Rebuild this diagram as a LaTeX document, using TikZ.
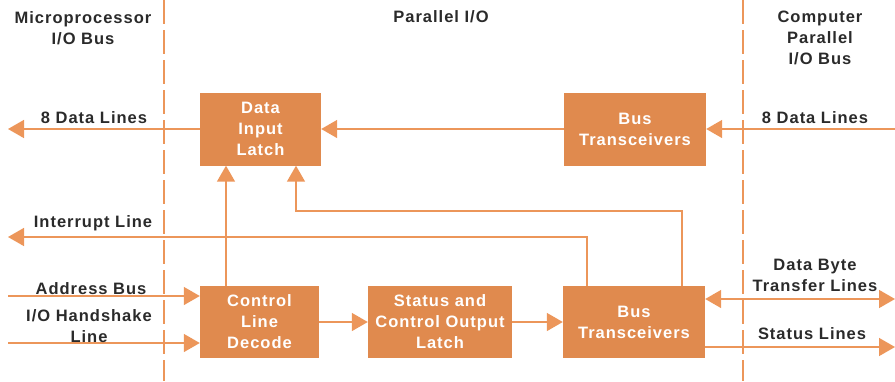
\documentclass[tikz,border=0pt]{standalone}
\usepackage{fontspec}
\setmainfont{Liberation Sans}[LetterSpace=6]
\usepackage{tikz}
\usetikzlibrary{arrows.meta, positioning}
\definecolor{boxorange}{RGB}{224,138,78}
\definecolor{lineorange}{RGB}{236,150,90}
\definecolor{labelgray}{RGB}{42,42,42}
\tikzset{>={Triangle[length=16pt, width=18pt]}}

\begin{document}
\begin{tikzpicture}[x=1pt, y=-1pt,
  block/.style={fill=boxorange, text=white, align=center, inner sep=0pt,
    font=\bfseries\fontsize{16.5}{21}\selectfont},
  lbl/.style={text=labelgray, align=center, inner sep=0pt,
    font=\bfseries\fontsize{16.5}{21}\selectfont},
  wire/.style={lineorange, line width=1.5pt},
  divider/.style={lineorange, line width=1.5pt, dash pattern=on 24pt off 6pt}]

\useasboundingbox (0,0) rectangle (895,381);

% Section dividers
\draw[divider] (164,0) -- (164,381);
\draw[divider] (743,0) -- (743,381);

% Headings
\node[lbl] (hmicro) at (83,28) {Microprocessor\\I/O Bus};
\node[lbl] (hpio) at (441,17) {Parallel I/O};
\node[lbl] (hcomp) at (820,37.5) {Computer\\Parallel\\I/O Bus};

% Blocks
\node[block, minimum width=121pt, minimum height=73pt] (latch) at (260.5,129) {Data\\Input\\Latch};
\node[block, minimum width=142pt, minimum height=73pt] (bustop) at (635,129) {Bus\\Transceivers};
\node[block, minimum width=119pt, minimum height=72pt] (decode) at (259.5,322) {Control\\Line\\Decode};
\node[block, minimum width=144pt, minimum height=72pt] (status) at (440,322) {Status and\\Control Output\\Latch};
\node[block, minimum width=142pt, minimum height=72pt] (busbot) at (634,322) {Bus\\Transceivers};

% Free ends
\coordinate (dout) at (8,129);
\coordinate (din) at (895,129);
\coordinate (intr) at (8,237);
\coordinate (addr) at (8,296);
\coordinate (hand) at (8,343);
\coordinate (dbt) at (895,299);
\coordinate (stl) at (895,347);

% Connectors
\draw[wire, ->] (latch.west |- dout) -- (dout);
\draw[wire, ->] (bustop.west) -- (latch.east);
\draw[wire, ->] (din) -- (din -| bustop.east);
\draw[wire, ->] ([xshift=-33.5pt]decode.north) -- ([xshift=-33.5pt]decode.north |- latch.south);
\draw[wire, ->] ([xshift=48pt]busbot.north) -- ++(0,-75) -| ([xshift=35.5pt]latch.south);
\draw[wire, ->] ([xshift=-47pt]busbot.north) |- (intr);
\draw[wire, ->] (addr) -- (addr -| decode.west);
\draw[wire, ->] (hand) -- (hand -| decode.west);
\draw[wire, ->] (decode) -- (status);
\draw[wire, ->] (status) -- (busbot);
\draw[wire, <->] (dbt -| busbot.east) -- (dbt);
\draw[wire, ->] (stl -| busbot.east) -- (stl);

% Line labels
\node[lbl] (ldout) at (94,118) {8 Data Lines};
\node[lbl] (ldin) at (815,118) {8 Data Lines};
\node[lbl] (lintr) at (93,223) {Interrupt Line};
\node[lbl] (laddr) at (91,289) {Address Bus};
\node[lbl] (lhand) at (89,326) {I/O Handshake\\Line};
\node[lbl] (ldbt) at (815,275) {Data Byte\\Transfer Lines};
\node[lbl] (lstl) at (812,334) {Status Lines};

\end{tikzpicture}
\end{document}
